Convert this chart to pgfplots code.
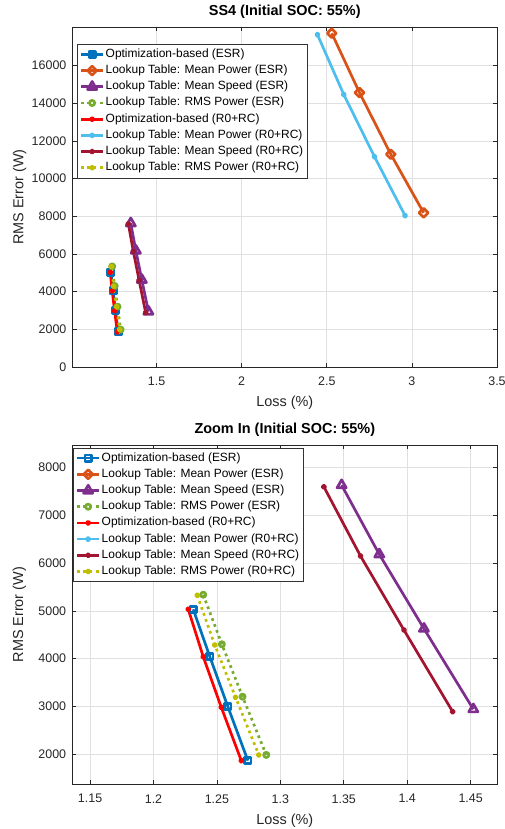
\documentclass[border=0pt]{standalone}
\usepackage{fontspec}
\setmainfont{Liberation Sans}
\usepackage{pgfplots}
\pgfplotsset{compat=1.18}

\definecolor{mblue}{rgb}{0,0.447,0.741}
\definecolor{morange}{rgb}{0.85,0.325,0.098}
\definecolor{mpurple}{rgb}{0.494,0.184,0.556}
\definecolor{mgreen}{rgb}{0.466,0.674,0.188}
\definecolor{mred}{rgb}{1,0,0}
\definecolor{mlblue}{rgb}{0.301,0.745,0.933}
\definecolor{mdred}{rgb}{0.635,0.078,0.184}
\definecolor{myellow}{rgb}{0.75,0.75,0}

\pgfplotsset{
  matstyle/.style={
    scale only axis,
    tick align=inside, tick pos=both, major tick length=4bp,
    scaled ticks=false,
    grid=major, grid style={black!12, line width=0.6bp},
    axis line style={black!85, line width=0.7bp},
    tick style={black!85, line width=0.6bp},
    /pgf/number format/assume math mode=true,
    /pgf/number format/1000 sep={},
    ticklabel style={font=\fontsize{12.5}{14}\selectfont, text=black!85},
    xticklabel style={yshift=-6.5bp},
    yticklabel style={xshift=-2.6bp},
    label style={font=\fontsize{14.5}{17}\selectfont, text=black!85},
    xlabel style={at={(axis description cs:0.5,0)}, anchor=base, yshift=-40bp},
    ylabel style={at={(axis description cs:-0.1157,0.5)}, anchor=base},
    title style={font=\bfseries\fontsize{14.5}{17}\selectfont,
      at={(axis description cs:0.5,1)}, anchor=base, yshift=5.5bp},
    xlabel={Loss (\%)}, ylabel={RMS Error (W)},
    legend cell align=left,
    legend style={draw=black!80, line width=0.6bp, fill=white,
      font=\fontsize{12}{14}\selectfont, inner xsep=2.8bp, inner ysep=2bp,
      nodes={inner xsep=1.2bp, inner ysep=2.1bp, text height=9bp, text depth=3bp}},
    legend image code/.code={\draw[mark repeat=2,mark phase=2]
      plot coordinates {(0bp,0bp)(11bp,0bp)(22bp,0bp)};},
    every axis plot/.append style={line width=2.7bp, line join=round},
  },
}

\newcommand\plotall{%
\addplot[mblue, mark=square, mark size=3.1bp, mark options={solid}] coordinates {
  (1.2313,5032)(1.2444,4041)(1.2586,2995)(1.2744,1866)};
\addlegendentry{Optimization-based (ESR)}
\addplot[morange, mark=square, mark size=3.2bp, mark options={solid,rotate=45}] coordinates {
  (2.529,17721)(2.692,14566)(2.876,11294)(3.069,8187)};
\addlegendentry{Lookup Table: Mean Power (ESR)}
\addplot[mpurple, mark=triangle, mark size=5.3bp, mark options={solid}] coordinates {
  (1.3483,7630)(1.3780,6181)(1.4132,4626)(1.4521,2941)};
\addlegendentry{Lookup Table: Mean Speed (ESR)}
\addplot[mgreen, dash pattern=on 2.7bp off 3.6bp, mark=o, mark size=2.6bp, mark options={solid}] coordinates {
  (1.2392,5337)(1.2539,4300)(1.2702,3204)(1.2889,1985)};
\addlegendentry{Lookup Table: RMS Power (ESR)}
\addplot[mred, mark=*, mark size=1.7bp, mark options={solid,fill=mred}] coordinates {
  (1.2274,5032)(1.2392,4041)(1.2534,2983)(1.2692,1866)};
\addlegendentry{Optimization-based (R0+RC)}
\addplot[mlblue, mark=*, mark size=1.7bp, mark options={solid,fill=mlblue}] coordinates {
  (2.445,17646)(2.600,14460)(2.780,11167)(2.960,8034)};
\addlegendentry{Lookup Table: Mean Power (R0+RC)}
\addplot[mdred, mark=*, mark size=1.7bp, mark options={solid,fill=mdred}] coordinates {
  (1.3343,7595)(1.3632,6146)(1.3974,4599)(1.4358,2891)};
\addlegendentry{Lookup Table: Mean Speed (R0+RC)}
\addplot[myellow, dash pattern=on 2.7bp off 3.6bp, mark=*, mark size=1.7bp, mark options={solid,fill=myellow}] coordinates {
  (1.2345,5324)(1.2483,4285)(1.2647,3192)(1.2830,1985)};
\addlegendentry{Lookup Table: RMS Power (R0+RC)}
}

\begin{document}
\begin{tikzpicture}
\path[use as bounding box] (0bp,0bp) rectangle (505bp,829bp);

\begin{axis}[matstyle,
  at={(72.5bp,462bp)}, anchor=south west,
  width=424.5bp, height=340bp,
  xmin=1.006, xmax=3.5, ymin=0, ymax=18050,
  xtick={1.5,2,2.5,3,3.5}, ytick={0,2000,...,16000},
  title={SS4 (Initial SOC: 55\%)},
  legend style={at={(0.0099,0.95)}, anchor=north west},
]
\plotall
\end{axis}

\begin{axis}[matstyle,
  at={(72.3bp,44.7bp)}, anchor=south west,
  width=425bp, height=339.3bp,
  xmin=1.136, xmax=1.471, ymin=1370, ymax=8470,
  xtick={1.15,1.2,1.25,1.3,1.35,1.4,1.45}, ytick={2000,3000,...,8000},
  title={Zoom In (Initial SOC: 55\%)},
  legend style={at={(0.001,0.992)}, anchor=north west},
]
\plotall
\end{axis}
\end{tikzpicture}
\end{document}
